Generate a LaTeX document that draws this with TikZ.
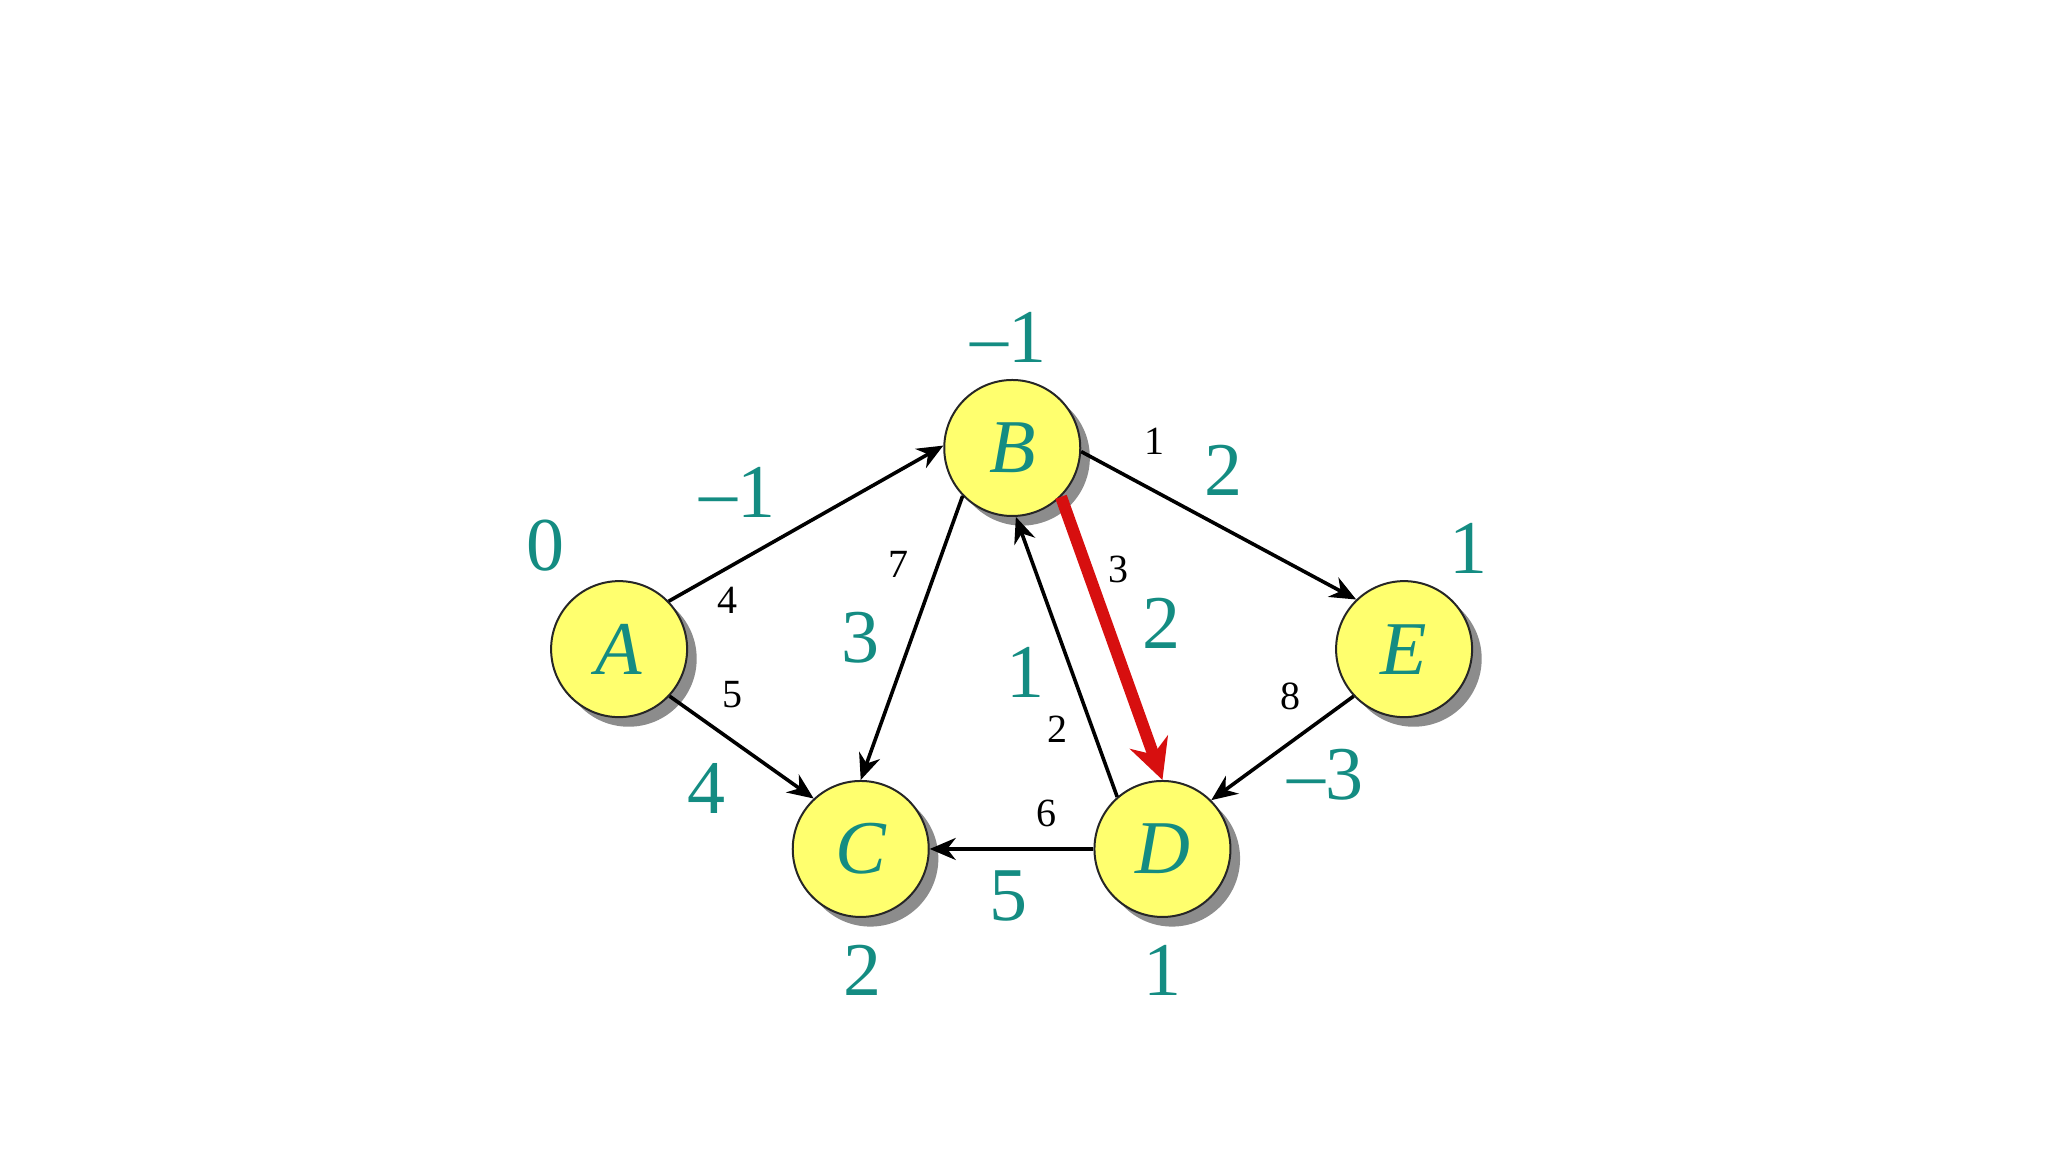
\documentclass[tikz,border=0pt]{standalone}
\usepackage{fontspec}
\setmainfont{Liberation Serif}
\usetikzlibrary{arrows.meta, shadows}

\definecolor{distteal}{RGB}{20,140,130}
\definecolor{relaxred}{RGB}{215,15,15}
\definecolor{vertexfill}{RGB}{255,255,110}

\tikzset{
  vertex/.style={circle, draw=black!85, line width=0.5pt, fill=vertexfill,
    minimum size=34pt, inner sep=0pt, text=distteal,
    font=\fontsize{19}{19}\selectfont\itshape,
    drop shadow={shadow xshift=2.4pt, shadow yshift=-2.4pt, fill=black!45, opacity=1}},
  dist/.style={text=distteal, font=\fontsize{19}{19}\selectfont},
  weight/.style={font=\fontsize{10}{10}\selectfont},
  arc/.style={-{Stealth[length=6.5pt, width=5.5pt]}, line width=0.9pt},
  relaxed/.style={-{Stealth[length=10pt, width=10pt]}, line width=3pt, draw=relaxred},
}

\begin{document}
\begin{tikzpicture}[x=0.3265pt, y=-0.3265pt]

  \useasboundingbox (0,0) rectangle (1568,882);

  \node[vertex] (A) at (474,497) {A};
  \node[vertex] (B) at (775,343) {B};
  \node[vertex] (C) at (659,650) {C};
  \node[vertex] (D) at (890,650) {D};
  \node[vertex] (E) at (1075,497) {E};

  % distances
  \node[dist] (dA) at (418,418) {0};
  \node[dist] (dB) at (772,258) {–1};
  \node[dist] (dC) at (660,743) {2};
  \node[dist] (dD) at (890,743) {1};
  \node[dist] (dE) at (1124,420) {1};

  \path
  (A.44) edge[arc] (B.178)
  (A.-43) edge[arc] (C.133)
  (B.-136) edge[arc] (C.90)
  (D.131) edge[arc] (B.-87)
  (B.-3) edge[arc] (E.134)
  (E.-137) edge[arc] (D.45)
  (D.west) edge[arc] (C.east)
  (B.-45) edge[relaxed] (D.90);

  % weights
  \node[weight] (wAB) at (557,460) {4};
  \node[weight] (wAC) at (561,532) {5};
  \node[weight] (wBC) at (688,432) {7};
  \node[weight] (wDB) at (810,558) {2};
  \node[weight] (wBD) at (856,436) {3};
  \node[weight] (wBE) at (884,338) {1};
  \node[weight] (wED) at (988,533) {8};
  \node[weight] (wDC) at (801,623) {6};

  % reduced weights
  \node[dist] (rAB) at (565,377) {–1};
  \node[dist] (rAC) at (541,604) {4};
  \node[dist] (rBC) at (659,488) {3};
  \node[dist] (rDB) at (785,515) {1};
  \node[dist] (rBD) at (889,477) {2};
  \node[dist] (rBE) at (937,360) {2};
  \node[dist] (rED) at (1015,593) {–3};
  \node[dist] (rDC) at (772,686) {5};

\end{tikzpicture}
\end{document}
